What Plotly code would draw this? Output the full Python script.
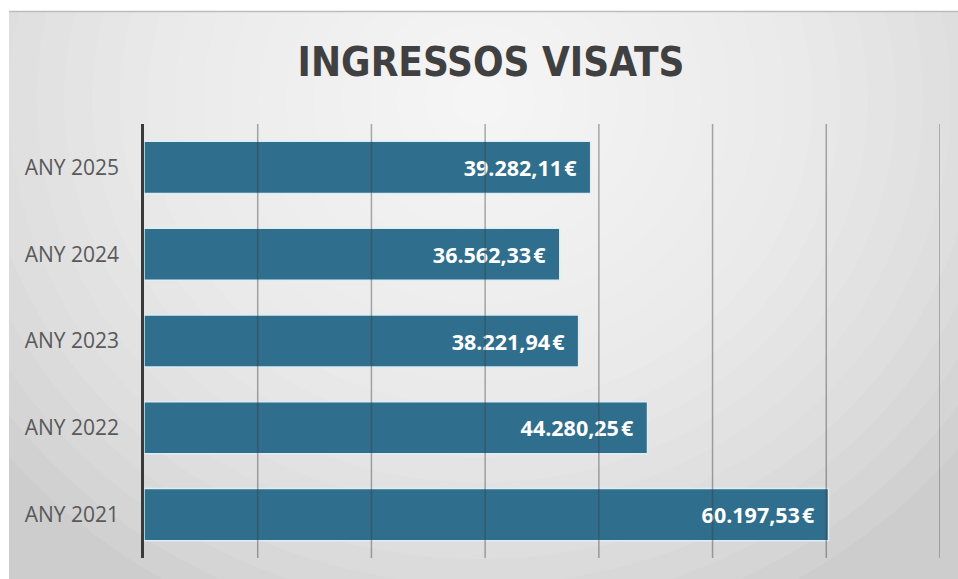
import plotly.graph_objects as go

years = ["ANY 2021", "ANY 2022", "ANY 2023", "ANY 2024", "ANY 2025"]
income = [60197.53, 44280.25, 38221.94, 36562.33, 39282.11]
x_max = 70000
x_step = 10000
grid_vals = list(range(x_step, x_max + 1, x_step))

W, H = 958, 579
L, R, T, B = 144, 18, 124, 21
PW, PH = W - L - R, H - T - B


def px(x):
    return (x - L) / PW


def py(y):
    return (H - B - y) / PH


fig = go.Figure()
fig.add_trace(go.Bar(
    y=years, x=income, orientation="h",
    marker=dict(color="#2F6E8C", line=dict(color="#DCEEF4", width=1.5)),
    texttemplate="%{x:,.2f}\u200a€\u00a0\u00a0",
    textposition="inside", insidetextanchor="end",
    textfont=dict(family="Open Sans", size=21.5, color="white", weight="bold"),
    cliponaxis=False, hoverinfo="skip",
))

shapes = []
shapes.append(dict(type="rect", xref="paper", yref="paper", x0=px(-20), x1=px(W + 20), y0=py(H + 20), y1=py(-20),
                   fillcolor="#CDCDCD", line=dict(width=0), layer="below"))
cx, cy = 480, 100
N = 22
for i in range(N):
    f = 1 - i / N
    r = 610 * f
    shapes.append(dict(type="circle", xref="paper", yref="paper",
                       x0=px(cx - r), x1=px(cx + r), y0=py(cy + r * 0.92), y1=py(cy - r * 0.92),
                       fillcolor="rgba(255,255,255,0.085)", line=dict(width=0), layer="below"))
shapes.append(dict(type="rect", xref="paper", yref="paper", x0=px(-20), x1=px(W + 20), y0=py(11), y1=py(-20),
                   fillcolor="white", line=dict(width=0), layer="below"))
shapes.append(dict(type="rect", xref="paper", yref="paper", x0=px(-20), x1=px(9), y0=py(H + 20), y1=py(-20),
                   fillcolor="white", line=dict(width=0), layer="below"))
shapes.append(dict(type="line", xref="paper", yref="paper", x0=px(9), x1=px(W + 20), y0=py(11.5), y1=py(11.5),
                   line=dict(color="#BDBDBD", width=1.5), layer="below"))
for v in grid_vals:
    shapes.append(dict(type="line", xref="x", yref="y domain", x0=v, x1=v, y0=0, y1=1,
                       line=dict(color="rgba(60,60,60,0.42)", width=1.5), layer="above"))

fig.update_layout(
    width=W, height=H,
    margin=dict(l=L, r=R, t=T, b=B),
    paper_bgcolor="white", plot_bgcolor="rgba(0,0,0,0)",
    separators=",.",
    showlegend=False,
    bargap=0.4,
    title=dict(text="<b>INGRESSOS VISATS</b>", x=491 / W, xref="container", xanchor="center",
               y=1 - 62 / H, yref="container", yanchor="middle",
               font=dict(family="DejaVu Sans Condensed", size=40, color="#404040")),
    shapes=shapes,
    xaxis=dict(range=[0, x_max], dtick=x_step, showgrid=False, zeroline=False,
               showticklabels=False, fixedrange=True, automargin=False),
    yaxis=dict(showline=True, linecolor="#3A3A3A", linewidth=2.5, layer="above traces",
               showgrid=False, ticks="outside", ticklen=18, tickcolor="rgba(0,0,0,0)",
               automargin=False, fixedrange=True,
               tickfont=dict(family="Open Sans", size=21, color="#595959")),
)

fig.write_html("out.html", config={"displayModeBar": False},
               post_script="document.body.style.margin='0';")
